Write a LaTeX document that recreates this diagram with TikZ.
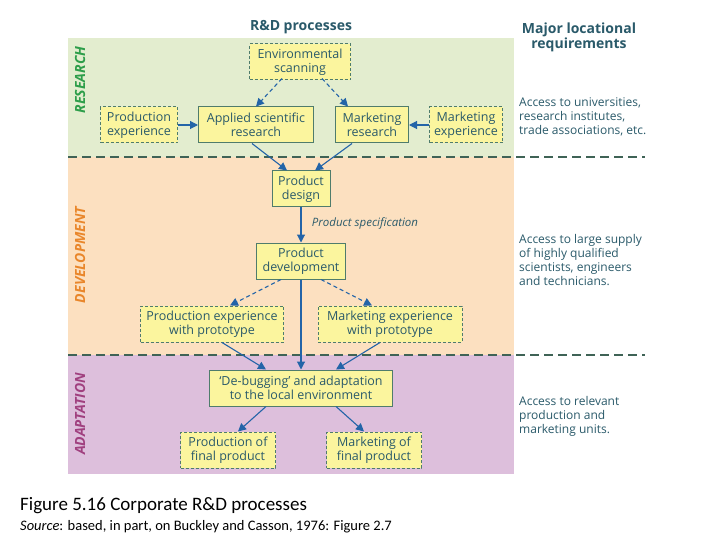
\documentclass[tikz,border=0pt]{standalone}
\usepackage{fontspec}
\setmainfont{Open Sans}
\newfontfamily\capfont{Carlito}
\usetikzlibrary{arrows.meta}
\definecolor{bgR}{HTML}{E3EDCF}
\definecolor{bgD}{HTML}{FCE0C0}
\definecolor{bgA}{HTML}{DDBFDC}
\definecolor{boxf}{HTML}{FBF59E}
\definecolor{boxd}{HTML}{4F7C6C}
\definecolor{txt}{HTML}{2A5A6A}
\definecolor{arr}{HTML}{2364A8}
\tikzset{
 box/.style={draw=boxd,fill=boxf,line width=1pt,text=txt,align=center,inner sep=0pt,minimum height=36pt,font=\fontsize{12.5}{14}\selectfont},
 dbox/.style={box,dash pattern=on 3pt off 2pt},
 ar/.style={draw=arr,line width=1.1pt,-{Triangle[length=8pt,width=8pt]}},
 dar/.style={ar,dash pattern=on 4pt off 3pt},
 side/.style={rotate=90,font=\bfseries\itshape\fontsize{14}{14}\selectfont},
 req/.style={anchor=west,align=left,text=txt,font=\fontsize{12}{14}\selectfont,inner sep=0pt},
}
\begin{document}
\begin{tikzpicture}[x=1pt,y=-1pt]
\useasboundingbox (0,0) rectangle (720,540);
\fill[white] (0,0) rectangle (720,540);
\fill[bgR] (68,38) rectangle (514,157);
\fill[bgD] (68,157) rectangle (514,355);
\fill[bgA] (68,355) rectangle (514,474);
\draw[boxd!80!black,line width=1.2pt,dash pattern=on 9pt off 5pt] (68,157) -- (645,157);
\draw[boxd!80!black,line width=1.2pt,dash pattern=on 9pt off 5pt] (68,355) -- (645,355);
\node[font=\bfseries\fontsize{14}{14}\selectfont,text=txt] (title) at (301,27) {R\&D processes};
\node[font=\bfseries\fontsize{14}{15}\selectfont,text=txt,align=center] (major) at (579,37) {Major locational\\requirements};
\node[side,text={rgb,255:red,46;green,158;blue,74}] (lR) at (80,80) {RESEARCH};
\node[side,text={rgb,255:red,233;green,134;blue,42}] (lD) at (80,255) {DEVELOPMENT};
\node[side,text={rgb,255:red,160;green,64;blue,127}] (lA) at (80,414) {ADAPTATION};
\node[dbox,minimum width=101pt] (env) at (300,62) {Environmental\\scanning};
\node[dbox,minimum width=77pt] (pexp) at (139,125) {Production\\experience};
\node[box,minimum width=115pt] (app) at (256,125) {Applied scientific\\research};
\node[box,minimum width=73pt] (mres) at (372,125) {Marketing\\research};
\node[dbox,minimum width=73pt] (mexp) at (466,125) {Marketing\\experience};
\node[box,minimum width=58pt] (des) at (301,189) {Product\\design};
\node[box,minimum width=89pt] (dev) at (301,261) {Product\\development};
\node[dbox,minimum width=143pt] (pproto) at (212,324) {Production experience\\with prototype};
\node[dbox,minimum width=144pt] (mproto) at (390,324) {Marketing experience\\with prototype};
\node[box,minimum width=183pt] (deb) at (301,388) {‘De-bugging’ and adaptation\\to the local environment};
\node[dbox,minimum width=95pt] (pfin) at (228,450) {Production of\\final product};
\node[dbox,minimum width=95pt] (mfin) at (374,450) {Marketing of\\final product};
\node[font=\itshape\fontsize{11.5}{12}\selectfont,text=txt] (spec) at (365,223) {Product specification};
\draw[dar] ([xshift=-18pt,yshift=2pt]env.south) -- ([xshift=0pt]app.north);
\draw[dar] ([xshift=22pt,yshift=2pt]env.south) -- ([xshift=-24pt]mres.north);
\draw[ar] (pexp) -- (app);
\draw[ar] (mexp) -- (mres);
\draw[ar] ([xshift=-4pt]app.south) -- ([xshift=-14pt]des.north);
\draw[ar] ([xshift=-20pt]mres.south) -- ([xshift=14pt]des.north);
\draw[ar] (des) -- (dev);
\draw[dar] ([xshift=-20pt]dev.south) -- ([xshift=18pt]pproto.north);
\draw[dar] ([xshift=20pt]dev.south) -- ([xshift=-18pt]mproto.north);
\draw[ar] (dev) -- (deb);
\draw[ar] ([xshift=10pt]pproto.south) -- ([xshift=-35pt]deb.north);
\draw[ar] ([xshift=-10pt]mproto.south) -- ([xshift=35pt]deb.north);
\draw[ar] ([xshift=-35pt]deb.south) -- ([xshift=10pt]pfin.north);
\draw[ar] ([xshift=35pt]deb.south) -- ([xshift=-10pt]mfin.north);
\node[req] (r1) at (519,117) {Access to universities,\\research institutes,\\trade associations, etc.};
\node[req] (r2) at (519,260) {Access to large supply\\of highly qualified\\scientists, engineers\\and technicians.};
\node[req] (r3) at (519,416) {Access to relevant\\production and\\marketing units.};
\node[anchor=west,inner sep=0pt,font=\capfont\fontsize{19}{20}\selectfont] (cap) at (20,506) {Figure 5.16 Corporate R\&D processes};
\node[anchor=west,inner sep=0pt,font=\capfont\fontsize{14.5}{15}\selectfont] (src) at (20,527) {\textit{Source}: based, in part, on Buckley and Casson, 1976: Figure 2.7};
\end{tikzpicture}
\end{document}
